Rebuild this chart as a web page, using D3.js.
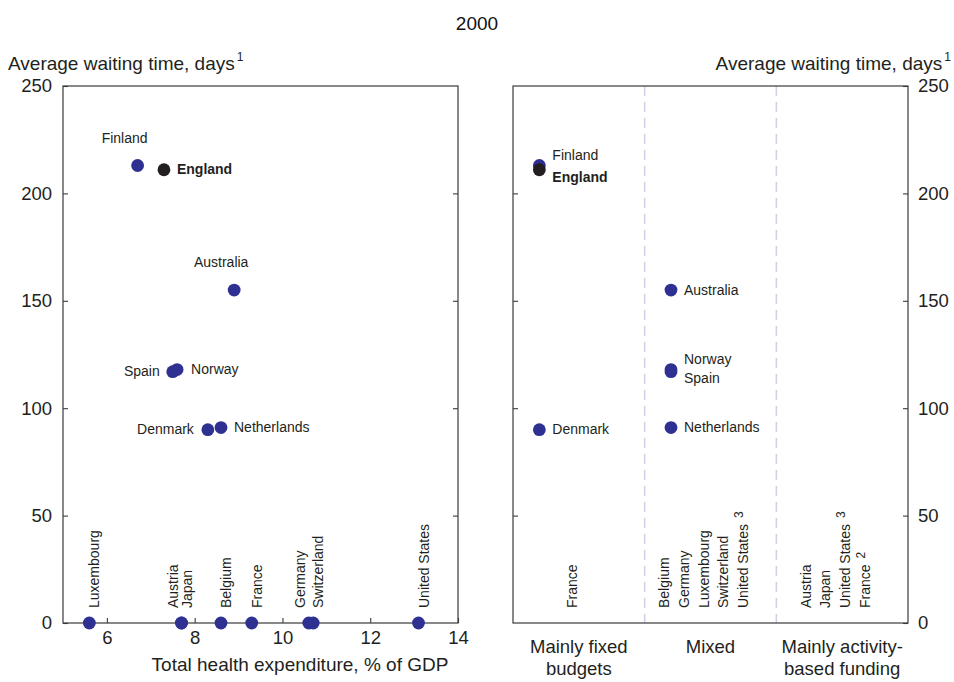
<!DOCTYPE html>
<html>
<head>
<meta charset="utf-8">
<script src="https://cdn.jsdelivr.net/npm/d3@7"></script>
<style>
  html, body { margin: 0; padding: 0; background: #fff; }
  svg { display: block; font-family: "Liberation Sans", Arial, Helvetica, sans-serif; }
</style>
</head>
<body>
<svg id="chart" width="954" height="682"></svg>
<script>
// ---------------- DATA ----------------
const chartTitle = "2000";
const yTitle = "Average waiting time, days";
const yTitleNote = "1";
const xTitle = "Total health expenditure, % of GDP";

const yTicks = [0, 50, 100, 150, 200, 250];
const xTicks = [6, 8, 10, 12, 14];

// Left panel: expenditure vs waiting time
const countries   = ["Finland", "England", "Australia", "Spain", "Norway", "Denmark", "Netherlands",
                     "Luxembourg", "Austria", "Japan", "Belgium", "France", "Germany", "Switzerland", "United States"];
const expenditure = [6.7, 7.3, 8.9, 7.5, 7.6, 8.3, 8.6,
                     5.6, 7.7, 7.7, 8.6, 9.3, 10.6, 10.7, 13.1];
const waitingDays = [213, 211, 155, 117, 118, 90, 91,
                     0, 0, 0, 0, 0, 0, 0, 0];

// Right panel: funding type vs waiting time
const fundingTypes  = ["Mainly fixed budgets", "Mixed", "Mainly activity-based funding"];
const fundingLines  = [["Mainly fixed", "budgets"], ["Mixed"], ["Mainly activity-", "based funding"]];
const rightCountries = ["Finland", "England", "Denmark", "Australia", "Norway", "Spain", "Netherlands"];
const rightFunding   = [0, 0, 0, 1, 1, 1, 1];
const rightWaiting   = [213, 211, 90, 155, 118, 117, 91];

// Countries without waiting-time data, per funding type (with footnote marks)
const noDataCountries = [
  ["France"],
  ["Belgium", "Germany", "Luxembourg", "Switzerland", "United States"],
  ["Austria", "Japan", "United States", "France"]
];
const noDataNotes = [
  [""],
  ["", "", "", "", "3"],
  ["", "", "3", "2"]
];

const highlight = "England";

// ---------------- STYLE ----------------
const dotColor = "#2E3192";
const hiColor = "#231F20";
const textColor = "#231F20";
const frameColor = "#3a3a3a";
const dashColor = "#CFCFE8";

const svg = d3.select("#chart");
const yTop = 86, yBottom = 623;
const L = {x0: 63, x1: 458};
const R = {x0: 513, x1: 908};

const y = d3.scaleLinear().domain([0, 250]).range([yBottom, yTop]);
const xL = d3.scaleLinear().domain([5, 14]).range([L.x0, L.x1]);
const xR = d3.scaleBand().domain(fundingTypes).range([R.x0, R.x1]);

// Title
svg.append("text").attr("x", 477).attr("y", 30).attr("text-anchor", "middle")
  .attr("font-size", 19).attr("fill", "#111").text(chartTitle);

// Y titles
const yt1 = svg.append("text").attr("x", 8).attr("y", 70).attr("font-size", 19).attr("fill", textColor);
yt1.append("tspan").text(yTitle);
yt1.append("tspan").attr("dx", 2).attr("dy", -9).attr("font-size", 12).text(yTitleNote);

const yt2 = svg.append("text").attr("x", 951).attr("y", 70).attr("font-size", 19)
  .attr("text-anchor", "end").attr("fill", textColor);
yt2.append("tspan").text(yTitle);
yt2.append("tspan").attr("dx", 2).attr("dy", -9).attr("font-size", 12).text(yTitleNote);

function styleAxis(g) {
  g.select(".domain").remove();
  g.selectAll(".tick line").attr("stroke", frameColor).attr("stroke-width", 1.1);
  g.selectAll(".tick text").attr("fill", textColor).attr("font-size", 18.5)
   .attr("font-family", "Liberation Sans, Arial, sans-serif");
}

// ---------------- LEFT PANEL ----------------
const gL = svg.append("g");
gL.append("g").attr("transform", `translate(${L.x0},0)`)
  .call(d3.axisLeft(y).tickValues(yTicks).tickSize(-5).tickPadding(11))
  .call(styleAxis);
gL.append("g").attr("transform", `translate(${L.x1},0)`)
  .call(d3.axisRight(y).tickValues(yTicks.filter(d => d > 0 && d < 250)).tickSize(-5).tickFormat(""))
  .call(styleAxis);
gL.append("g").attr("transform", `translate(0,${yBottom})`)
  .call(d3.axisBottom(xL).tickValues(xTicks).tickSize(-5).tickPadding(8))
  .call(styleAxis);
gL.append("rect").attr("x", L.x0).attr("y", yTop).attr("width", L.x1 - L.x0).attr("height", yBottom - yTop)
  .attr("fill", "none").attr("stroke", frameColor).attr("stroke-width", 1.2);

gL.append("text").attr("x", 300).attr("y", 671).attr("text-anchor", "middle")
  .attr("font-size", 19).attr("fill", textColor).text(xTitle);

const leftData = countries.map((c, i) => ({c, x: expenditure[i], v: waitingDays[i]}));

gL.selectAll("circle.dot").data(leftData).join("circle")
  .attr("class", "dot")
  .attr("cx", d => xL(d.x)).attr("cy", d => y(d.v)).attr("r", 6.4)
  .attr("fill", d => d.c === highlight ? hiColor : dotColor);

const leftLabelPlace = {
  "Finland":     {anchor: "middle", dx: -13, dy: -22},
  "England":     {anchor: "start",  dx: 13,  dy: 4},
  "Australia":   {anchor: "middle", dx: -13, dy: -23},
  "Spain":       {anchor: "end",    dx: -13, dy: 4},
  "Norway":      {anchor: "start",  dx: 14,  dy: 4},
  "Denmark":     {anchor: "end",    dx: -14, dy: 4},
  "Netherlands": {anchor: "start",  dx: 13,  dy: 4}
};
gL.selectAll("text.lab").data(leftData.filter(d => d.v > 0)).join("text")
  .attr("class", "lab")
  .attr("x", d => xL(d.x) + leftLabelPlace[d.c].dx)
  .attr("y", d => y(d.v) + leftLabelPlace[d.c].dy)
  .attr("text-anchor", d => leftLabelPlace[d.c].anchor)
  .attr("font-size", 14)
  .attr("font-weight", d => d.c === highlight ? "bold" : "normal")
  .attr("fill", textColor)
  .text(d => d.c);

const zeroData = leftData.filter(d => d.v === 0).sort((a, b) => a.x - b.x);
zeroData.forEach((d, i) => {
  const next = zeroData[i + 1];
  d.off = (next && next.x - d.x < 0.15) ? -4 : 10;
});
gL.selectAll("text.zlab").data(zeroData).join("text")
  .attr("class", "zlab")
  .attr("transform", d => `translate(${xL(d.x) + d.off},${yBottom - 15}) rotate(-90)`)
  .attr("font-size", 14).attr("fill", textColor)
  .text(d => d.c);

// ---------------- RIGHT PANEL ----------------
const gR = svg.append("g");
gR.append("g").attr("transform", `translate(${R.x1},0)`)
  .call(d3.axisRight(y).tickValues(yTicks).tickSize(-5).tickPadding(10))
  .call(styleAxis);
gR.append("g").attr("transform", `translate(${R.x0},0)`)
  .call(d3.axisLeft(y).tickValues(yTicks.filter(d => d > 0 && d < 250)).tickSize(-5).tickFormat(""))
  .call(styleAxis);

gR.selectAll("line.sep").data(fundingTypes.slice(1)).join("line")
  .attr("class", "sep")
  .attr("x1", d => xR(d)).attr("x2", d => xR(d))
  .attr("y1", yTop).attr("y2", yBottom)
  .attr("stroke", dashColor).attr("stroke-width", 1.5).attr("stroke-dasharray", "10,6");

gR.append("rect").attr("x", R.x0).attr("y", yTop).attr("width", R.x1 - R.x0).attr("height", yBottom - yTop)
  .attr("fill", "none").attr("stroke", frameColor).attr("stroke-width", 1.2);

const rightData = rightCountries.map((c, i) => ({c, f: fundingTypes[rightFunding[i]], v: rightWaiting[i]}));
const bw = xR.bandwidth();
const rx = d => xR(d.f) + bw * 0.2;

gR.selectAll("circle.dot").data(rightData).join("circle")
  .attr("class", "dot")
  .attr("cx", rx).attr("cy", d => y(d.v)).attr("r", 6.4)
  .attr("fill", d => d.c === highlight ? hiColor : dotColor);

const rightNudge = {"Finland": -9.5, "England": 7.5, "Norway": -10, "Spain": 6.5};
gR.selectAll("text.lab").data(rightData).join("text")
  .attr("class", "lab")
  .attr("x", d => rx(d) + 13)
  .attr("y", d => y(d.v) + 4.5 + (rightNudge[d.c] || 0))
  .attr("font-size", 14)
  .attr("font-weight", d => d.c === highlight ? "bold" : "normal")
  .attr("fill", textColor)
  .text(d => d.c);

noDataCountries.forEach((list, k) => {
  const cx = xR(fundingTypes[k]) + bw / 2 - 2;
  const n = list.length;
  list.forEach((name, i) => {
    const t = gR.append("text")
      .attr("transform", `translate(${cx + (i - (n - 1) / 2) * 19.6},${yBottom - 15}) rotate(-90)`)
      .attr("font-size", 14).attr("fill", textColor);
    t.append("tspan").text(name);
    const note = noDataNotes[k][i];
    if (note) t.append("tspan").attr("dx", 6).attr("dy", -5).attr("font-size", 12).text(note);
  });
});

fundingTypes.forEach((f, k) => {
  const t = gR.append("text").attr("x", xR(f) + bw / 2).attr("y", 653)
    .attr("text-anchor", "middle").attr("font-size", 18.5).attr("fill", textColor);
  fundingLines[k].forEach((ln, j) => {
    t.append("tspan").attr("x", xR(f) + bw / 2).attr("dy", j === 0 ? 0 : 22).text(ln);
  });
});
</script>
</body>
</html>
